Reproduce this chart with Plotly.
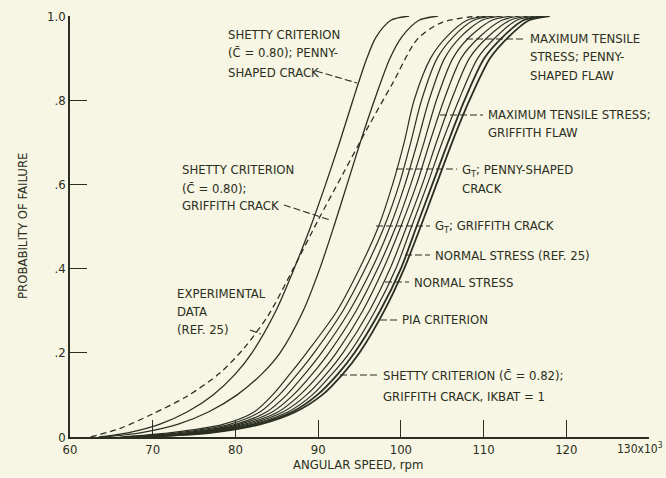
import plotly.graph_objects as go

# ---------------- data ----------------
prob_levels = [0, .01, .03, .06, .1, .15, .2, .3, .4, .5, .6, .7, .8, .9, .95, .99, 1.0]

# angular speed (x10^3 rpm) at each probability level
shetty_080_penny = [63.5, 67, 70.8, 74.2, 77.3, 80.0, 82.0, 84.9, 87.1, 89.1, 90.9, 92.6, 94.2, 95.9, 97.0, 98.8, 101.0]
shetty_080_griffith = [64, 68.5, 73, 76.8, 80.2, 83.2, 85.4, 88.2, 90.2, 91.9, 93.5, 95.1, 96.8, 98.7, 100.1, 102.2, 104.5]

group_names = ["PIA criterion", "Normal stress", "Normal stress (ref. 25)", "G_T; Griffith crack",
               "Unlabeled", "G_T; penny-shaped crack", "Maximum tensile stress; Griffith flaw",
               "Maximum tensile stress; penny-shaped flaw", "Shetty (C=0.82); Griffith crack, IKBAT=1"]
group_1 = [66, 72, 78.5, 82.3, 84.5, 86.6, 88.6, 92.3, 95.0, 97.3, 99.0, 100.4, 101.6, 103.6, 105.5, 108.0, 110.5]
group_2 = [66.5, 73, 79.3, 83.0, 85.3, 87.5, 89.5, 93.0, 95.7, 98.0, 99.8, 101.2, 102.5, 104.4, 106.3, 108.8, 111.3]
group_3 = [67, 74, 80.0, 83.8, 86.2, 88.4, 90.4, 93.8, 96.5, 98.7, 100.5, 102.0, 103.4, 105.3, 107.2, 109.8, 112.3]
group_4 = [67, 74.5, 80.5, 84.5, 87.0, 89.3, 91.3, 94.6, 97.2, 99.4, 101.2, 102.8, 104.3, 106.3, 108.3, 111.0, 113.5]
group_5 = [67.5, 75, 81.0, 85.2, 87.8, 90.2, 92.2, 95.4, 97.9, 100.0, 101.9, 103.5, 105.2, 107.3, 109.5, 112.2, 114.5]
group_6 = [67.5, 75.5, 81.5, 85.8, 88.6, 91.0, 93.0, 96.2, 98.7, 100.7, 102.6, 104.3, 106.1, 108.3, 110.5, 113.2, 115.5]
group_7 = [68, 76, 82.0, 86.4, 89.3, 91.7, 93.8, 96.9, 99.4, 101.3, 103.2, 105.0, 107.0, 109.3, 111.5, 114.0, 116.3]
group_8 = [68, 76.5, 82.5, 86.9, 89.9, 92.4, 94.4, 97.5, 100.0, 101.9, 103.8, 105.7, 107.7, 110.1, 112.3, 114.8, 117.2]
group_9 = [68, 77, 83.0, 87.3, 90.5, 93.0, 95.0, 98.0, 100.4, 102.4, 104.3, 106.2, 108.3, 110.8, 113.0, 115.5, 118.0]
group_curves = [group_1, group_2, group_3, group_4, group_5, group_6, group_7, group_8, group_9]

experimental_speed = [62.5, 66, 70, 74, 78, 81, 84, 87, 90, 93, 96, 99, 102, 105, 109.5]
experimental_prob = [0, 0.02, 0.055, 0.095, 0.15, 0.21, 0.29, 0.40, 0.515, 0.625, 0.735, 0.84, 0.945, 0.985, 1.0]

x_tick_vals = [60, 70, 80, 90, 100, 110, 120, 130]
x_tick_text = ["60", "70", "80", "90", "100", "110", "120", ""]
x_last_label = "130x10<sup>3</sup>"
y_tick_vals = [0, 0.2, 0.4, 0.6, 0.8, 1.0]
y_tick_text = ["0", ".2", ".4", ".6", ".8", "1.0"]

# ---------------- style ----------------
BG = "#f7f5e3"
INK = "#2b2f21"
FONT = "DejaVu Sans Condensed, Liberation Sans Narrow, Roboto Condensed, Arial Narrow, sans-serif"

fig = go.Figure()

def add_curve(xs, ys, name, dash="solid", width=1.3):
    fig.add_trace(go.Scatter(x=xs, y=ys, mode="lines", name=name,
                             line=dict(color=INK, width=width, dash=dash, shape="spline", smoothing=0.8),
                             hoverinfo="x+y+name", showlegend=False))

add_curve(experimental_speed, experimental_prob, "Experimental data (ref. 25)", dash="6px,4px")
add_curve(shetty_080_penny, prob_levels, "Shetty (C=0.80); penny-shaped crack")
add_curve(shetty_080_griffith, prob_levels, "Shetty (C=0.80); Griffith crack")
for i, (name, xs) in enumerate(zip(group_names, group_curves)):
    add_curve(xs, prob_levels, name, width=1.8 if i >= 7 else 1.2)

# pixel -> paper helpers (plot area 70..649 x, 16..437 y)
L, R, T, B = 70, 649, 16, 437

def px(xp):
    return (xp - L) / (R - L)

def py(yp):
    return (B - yp) / (B - T)

labels = [
    ("SHETTY CRITERION", 226, 34),
    ("(C\u0304 = 0.80); PENNY-", 226, 53),
    ("SHAPED CRACK", 226, 72),
    ("SHETTY CRITERION", 180, 169),
    ("(C\u0304 = 0.80);", 180, 188),
    ("GRIFFITH CRACK", 180, 206),
    ("EXPERIMENTAL", 175, 293),
    ("DATA", 175, 311),
    ("(REF. 25)", 175, 329),
    ("MAXIMUM TENSILE", 528, 39),
    ("STRESS; PENNY-", 528, 57),
    ("SHAPED FLAW", 528, 75),
    ("MAXIMUM TENSILE STRESS;", 486, 114),
    ("GRIFFITH FLAW", 486, 132),
    ("G<sub>T</sub>; PENNY-SHAPED", 460, 170),
    ("CRACK", 460, 188),
    ("G<sub>T</sub>; GRIFFITH CRACK", 433, 226),
    ("NORMAL STRESS (REF. 25)", 433, 255),
    ("NORMAL STRESS", 412, 282),
    ("PIA CRITERION", 400, 319),
    ("SHETTY CRITERION (C\u0304 = 0.82);", 381, 375),
    ("GRIFFITH CRACK, IKBAT = 1", 381, 396),
]
for text, xp, yp in labels:
    fig.add_annotation(x=px(xp), y=py(yp), xref="paper", yref="paper", text=text,
                       showarrow=False, xanchor="left", yanchor="middle",
                       font=dict(family=FONT, size=13, color=INK))

leaders = [
    (316, 71, 357, 83),
    (284, 205, 330, 220),
    (250, 330, 261, 334),
    (466, 39, 525, 39),
    (440, 115, 483, 115),
    (396, 169, 457, 169),
    (376, 226, 430, 226),
    (405, 255, 430, 255),
    (385, 282, 409, 282),
    (380, 320, 397, 320),
    (340, 375, 378, 375),
]
for x0, y0, x1, y1 in leaders:
    fig.add_shape(type="line", xref="paper", yref="paper",
                  x0=px(x0), y0=py(y0), x1=px(x1), y1=py(y1),
                  line=dict(color=INK, width=1.1, dash="7px,3px"))

# axis titles and the last x tick label as text
fig.add_annotation(x=px(358), y=py(464), xref="paper", yref="paper", text="ANGULAR SPEED, rpm",
                   showarrow=False, xanchor="center", yanchor="middle",
                   font=dict(family=FONT, size=13, color=INK))
fig.add_annotation(x=px(22), y=py(226), xref="paper", yref="paper", text="PROBABILITY OF FAILURE",
                   showarrow=False, xanchor="center", yanchor="middle", textangle=-90,
                   font=dict(family=FONT, size=13, color=INK))
fig.add_annotation(x=px(665), y=py(448), xref="paper", yref="paper", text=x_last_label,
                   showarrow=False, xanchor="right", yanchor="middle",
                   font=dict(family=FONT, size=12, color=INK))

axis_common = dict(showline=True, linecolor=INK, linewidth=1.5, showgrid=False, zeroline=False,
                   ticks="inside", ticklen=17, tickwidth=1.3, tickcolor=INK, automargin=False,
                   tickfont=dict(family=FONT, size=13, color=INK), mirror=False)

fig.update_xaxes(range=[60, 130], tickmode="array", tickvals=x_tick_vals, ticktext=x_tick_text,
                 **axis_common)
fig.update_yaxes(range=[0, 1], tickmode="array", tickvals=y_tick_vals, ticktext=y_tick_text,
                 **axis_common)

fig.update_layout(width=666, height=478, margin=dict(l=L, r=666 - R, t=T, b=478 - B),
                  paper_bgcolor=BG, plot_bgcolor=BG, showlegend=False)

fig.write_html("out.html", config={"displayModeBar": False},
               post_script="document.body.style.margin='0';document.body.style.overflow='hidden';"
                           "document.body.style.background='" + BG + "';")
